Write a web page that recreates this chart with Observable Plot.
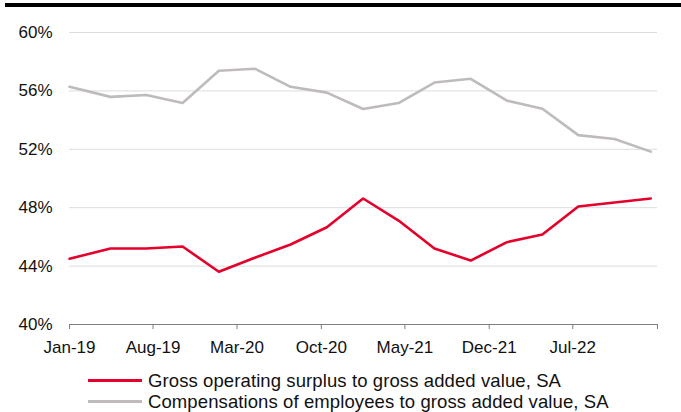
<!DOCTYPE html>
<html>
<head>
<meta charset="utf-8">
<script src="https://cdn.jsdelivr.net/npm/d3@7"></script>
<script src="https://cdn.jsdelivr.net/npm/@observablehq/plot@0.6"></script>
<style>
  html, body { margin: 0; padding: 0; background: #fff; }
  body { width: 681px; height: 412px; overflow: hidden; font-family: "Liberation Sans", Arial, sans-serif; }
  #bar { margin: 3px 0 0 5px; height: 4px; background: #000; }
  #chart svg { display: block; }
  #legend { position: absolute; left: 88px; top: 370px; font-size: 18.5px; letter-spacing: 0.1px; color: #111; }
  .row { display: flex; align-items: center; height: 21px; white-space: nowrap; }
  .sw { width: 54px; height: 3px; margin-right: 6px; flex: none; }
</style>
</head>
<body>
<div id="bar"></div>
<div id="chart"></div>
<div id="legend"></div>
<script>
// Observation dates as placed on the date axis
const dates = ["2019-01-01","2019-04-15","2019-07-15","2019-10-15","2020-01-15","2020-04-15","2020-07-15","2020-10-15","2021-01-15","2021-04-15","2021-07-15","2021-10-15","2022-01-15","2022-04-15","2022-07-15","2022-10-15","2023-01-15"];
// Gross operating surplus to gross added value, SA (%)
const gos = [44.50,45.21,45.21,45.34,43.61,44.57,45.48,46.66,48.63,47.12,45.21,44.38,45.64,46.16,48.08,48.36,48.63];
// Compensations of employees to gross added value, SA (%)
const coe = [56.28,55.59,55.72,55.17,57.38,57.52,56.28,55.88,54.76,55.17,56.57,56.83,55.33,54.78,52.97,52.71,51.84];
// Axis ticks
const xTickDates = ["2019-01-01","2019-08-01","2020-03-01","2020-10-01","2021-05-01","2021-12-01","2022-07-01","2023-02-01"];
const xTickLabels = ["Jan-19","Aug-19","Mar-20","Oct-20","May-21","Dec-21","Jul-22",""];
const yTicks = [40,44,48,52,56,60];
const seriesNames = ["Gross operating surplus to gross added value, SA","Compensations of employees to gross added value, SA"];
const seriesColors = ["#e4002b","#bfbbbb"];

const parse = d3.utcParse("%Y-%m-%d");
const gosData = dates.map((d,i) => ({date: parse(d), value: gos[i]}));
const coeData = dates.map((d,i) => ({date: parse(d), value: coe[i]}));
const xt = xTickDates.map(parse);
const labelOf = new Map(xt.map((d,i) => [+d, xTickLabels[i]]));

const chart = Plot.plot({
  width: 681,
  height: 357,
  marginLeft: 69,
  marginRight: 24,
  marginTop: 25,
  marginBottom: 40,
  style: {fontFamily: "'Liberation Sans', Arial, sans-serif", fontSize: "17px", color: "#111", background: "#fff", overflow: "visible"},
  x: {type: "utc", domain: [xt[0], xt[xt.length-1]]},
  y: {domain: [40, 60]},
  marks: [
    Plot.gridY(yTicks.filter(t => t > 40), {stroke: "#dcdcdc", strokeOpacity: 1, strokeWidth: 1}),
    Plot.ruleY([40], {stroke: "#7f7f7f", strokeWidth: 1}),
    Plot.axisY(yTicks, {tickSize: 0, tickPadding: 17, tickFormat: d => d + "%", fontSize: 17, label: null}),
    Plot.axisX(xt, {tickSize: 5, stroke: "#7f7f7f", tickPadding: 11, tickFormat: d => labelOf.get(+d), fontSize: 17, label: null}),
    Plot.line(coeData, {x: "date", y: "value", stroke: seriesColors[1], strokeWidth: 2.6}),
    Plot.line(gosData, {x: "date", y: "value", stroke: seriesColors[0], strokeWidth: 2.6})
  ]
});
document.getElementById("chart").appendChild(chart);

const legend = document.getElementById("legend");
seriesNames.forEach((name, i) => {
  const row = document.createElement("div");
  row.className = "row";
  const sw = document.createElement("div");
  sw.className = "sw";
  sw.style.background = seriesColors[i];
  const tx = document.createElement("span");
  tx.textContent = name;
  row.appendChild(sw);
  row.appendChild(tx);
  legend.appendChild(row);
});
</script>
</body>
</html>
